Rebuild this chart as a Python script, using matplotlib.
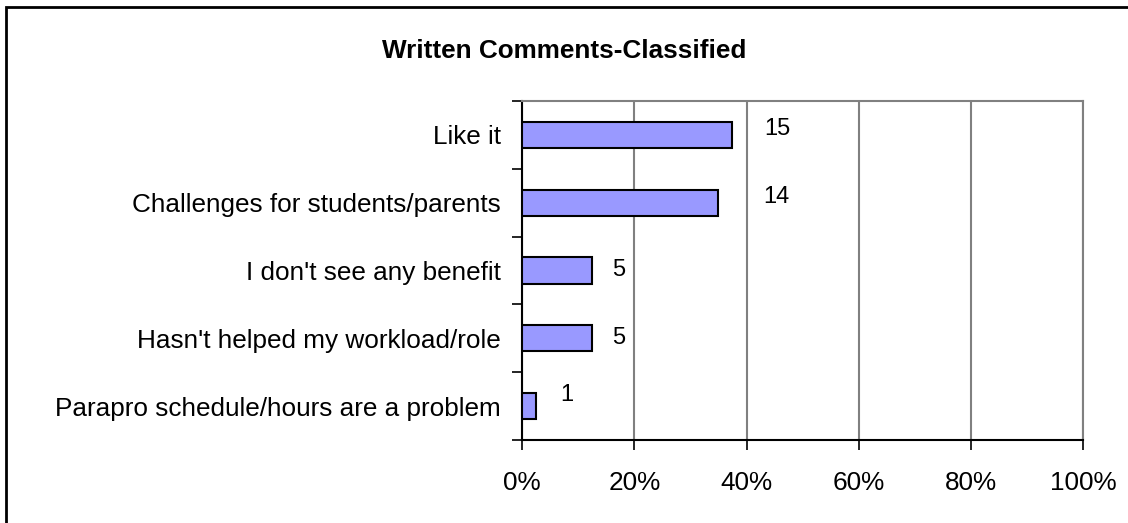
import matplotlib
matplotlib.use("Agg")
import matplotlib.pyplot as plt
import matplotlib.patches as patches
from matplotlib.ticker import FixedLocator, PercentFormatter

plt.rcParams['font.family'] = ['Liberation Sans', 'DejaVu Sans']

# Jumlah komentar per kategori
kategori = [
    "Like it",
    "Challenges for students/parents",
    "I don't see any benefit",
    "Hasn't helped my workload/role",
    "Parapro schedule/hours are a problem",
]
jumlah = [15, 14, 5, 5, 1]

total = sum(jumlah)
persen = [100 * j / total for j in jumlah]

# Geser label angka (poin) relatif terhadap ujung batang
geser_label = [(32, 4), (42, 4), (19, 0), (19, 0), (22, 8)]

fig = plt.figure(figsize=(11.28, 5.23), dpi=100)
ax = fig.add_axes([0.4628, 0.1587, 0.4975, 0.6482])

y = list(range(len(kategori)))
ax.barh(y, persen, height=0.385, color='#9999FF', edgecolor='black',
        linewidth=1.5, zorder=3)

for yi, p, j, (dx, dy) in zip(y, persen, jumlah, geser_label):
    ax.annotate(str(j), xy=(p, yi), xytext=(dx, dy), textcoords='offset points',
                ha='center', va='center', fontsize=17, zorder=4)

ax.set_xlim(0, 100)
ax.set_ylim(len(kategori) - 0.5, -0.5)
ax.xaxis.set_major_locator(FixedLocator([0, 20, 40, 60, 80, 100]))
ax.xaxis.set_major_formatter(PercentFormatter(decimals=0))
ax.set_yticks(y)
ax.set_yticklabels(kategori)
ax.yaxis.set_minor_locator(FixedLocator([i - 0.5 for i in range(len(kategori) + 1)]))

ax.tick_params(axis='y', which='major', length=0, pad=15, labelsize=18.8)
ax.tick_params(axis='y', which='minor', length=7, width=1.2, direction='out')
ax.tick_params(axis='x', length=7, width=1.2, direction='out', pad=15, labelsize=18.8)

ax.grid(axis='x', color='#808080', linewidth=1.5, zorder=1)
for s in ['top', 'right']:
    ax.spines[s].set_color('#808080')
    ax.spines[s].set_linewidth(1.5)
for s in ['left', 'bottom']:
    ax.spines[s].set_color('black')
    ax.spines[s].set_linewidth(1.5)

fig.text(0.5, 0.903, "Written Comments-Classified", ha='center', va='center',
         fontsize=18.8, fontweight='bold')

# Bingkai luar grafik
bingkai = patches.Rectangle((6 / 1128, -0.01), 1.02, 1 - 7 / 523 + 0.01,
                            transform=fig.transFigure, fill=False,
                            edgecolor='black', linewidth=2, clip_on=False)
fig.patches.append(bingkai)

fig.savefig("out.png", dpi=100)
